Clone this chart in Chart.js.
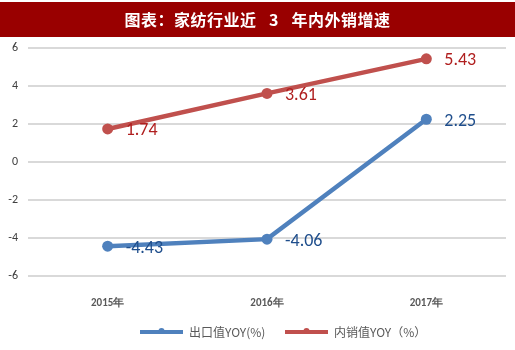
<!DOCTYPE html>
<html>
<head>
<meta charset="utf-8">
<script src="https://cdn.jsdelivr.net/npm/chart.js@4"></script>
<style>
  html, body { margin: 0; padding: 0; background: #fff; }
  #wrap { width: 515px; height: 350px; }
</style>
</head>
<body>
<div id="wrap"><canvas id="yoyChart" width="515" height="350"></canvas></div>
<script>
// Chart data
const chartTitle = '图表：家纺行业近 3 年内外销增速';
const categories = ['2015年', '2016年', '2017年'];
const seriesNames = ['出口值YOY(%)', '内销值YOY（%）'];
const exportYoy = [-4.43, -4.06, 2.25];
const domesticYoy = [1.74, 3.61, 5.43];
const yMin = -6, yMax = 6, yStep = 2;

const lineColors = ['#4F81BD', '#C0504D'];
const labelColors = ['#1F4E8C', '#B01F1F'];

// Red title bar across the top
const titleBar = {
    id: 'titleBar',
    beforeDraw(chart) {
        const ctx = chart.ctx;
        ctx.save();
        ctx.fillStyle = '#990000';
        ctx.fillRect(0, 2, chart.width, 35);
        ctx.fillStyle = '#ffffff';
        ctx.font = 'bold 16px "Noto Sans CJK SC", sans-serif';
        ctx.letterSpacing = '0.5px';
        ctx.textAlign = 'center';
        ctx.textBaseline = 'middle';
        // wider gaps around the digit, as in the source picture
        ctx.fillText(chartTitle.replace(' 3 ', '\u2002 3 \u2002'), chart.width / 2, 20);
        ctx.restore();
    }
};

// Value labels to the right of each point
const valueLabels = {
    id: 'valueLabels',
    afterDatasetsDraw(chart) {
        const ctx = chart.ctx;
        ctx.save();
        ctx.font = '18px Carlito, Lato, sans-serif';
        ctx.textAlign = 'left';
        ctx.textBaseline = 'middle';
        chart.data.datasets.forEach((ds, i) => {
            ctx.fillStyle = labelColors[i];
            chart.getDatasetMeta(i).data.forEach((pt, j) => {
                ctx.fillText(ds.data[j].toFixed(2), pt.x + 18, pt.y + 2);
            });
        });
        ctx.restore();
    }
};

// Legend at the bottom, line sample with a small marker
const bottomLegend = {
    id: 'bottomLegend',
    afterDraw(chart) {
        const ctx = chart.ctx;
        const starts = [140, 285];
        const y = 332;
        ctx.save();
        chart.data.datasets.forEach((ds, i) => {
            const x = starts[i];
            ctx.strokeStyle = ds.borderColor;
            ctx.lineWidth = 4;
            ctx.beginPath();
            ctx.moveTo(x, y);
            ctx.lineTo(x + 43, y);
            ctx.stroke();
            ctx.fillStyle = ds.borderColor;
            ctx.beginPath();
            ctx.arc(x + 21.5, y - 1, 3, 0, Math.PI * 2);
            ctx.fill();
            ctx.fillStyle = '#595959';
            ctx.font = '12px "Noto Sans CJK SC", sans-serif';
            ctx.textAlign = 'left';
            ctx.textBaseline = 'middle';
            ctx.fillText(ds.label, x + 49, y);
        });
        ctx.restore();
    }
};

const ctx = document.getElementById('yoyChart').getContext('2d');

new Chart(ctx, {
    type: 'line',
    data: {
        labels: categories,
        datasets: [
            {
                label: seriesNames[0],
                data: exportYoy,
                borderColor: lineColors[0],
                backgroundColor: lineColors[0],
                borderWidth: 4.5,
                pointRadius: 5.5,
                pointBorderWidth: 0,
                pointHoverRadius: 5.5,
                tension: 0
            },
            {
                label: seriesNames[1],
                data: domesticYoy,
                borderColor: lineColors[1],
                backgroundColor: lineColors[1],
                borderWidth: 4.5,
                pointRadius: 5.5,
                pointBorderWidth: 0,
                pointHoverRadius: 5.5,
                tension: 0
            }
        ]
    },
    options: {
        responsive: false,
        animation: false,
        layout: { padding: { top: 48, left: 0, right: 9, bottom: 0 } },
        plugins: {
            legend: { display: false },
            title: { display: false },
            tooltip: { enabled: false }
        },
        scales: {
            x: {
                offset: true,
                grid: { display: false },
                border: { display: false },
                ticks: {
                    color: '#595959',
                    font: { family: 'Carlito, Lato, sans-serif', size: 11, weight: 'bold' },
                    padding: 13
                },
                afterFit(scale) { scale.height = 74; }
            },
            y: {
                min: yMin,
                max: yMax,
                ticks: {
                    stepSize: yStep,
                    color: '#404040',
                    font: { family: 'Carlito, Lato, sans-serif', size: 12 },
                    padding: 10
                },
                grid: { color: '#D9D9D9', lineWidth: 2, drawTicks: false },
                border: { display: false },
                afterFit(scale) { scale.width = 28; }
            }
        }
    },
    plugins: [titleBar, valueLabels, bottomLegend]
});
</script>
</body>
</html>
